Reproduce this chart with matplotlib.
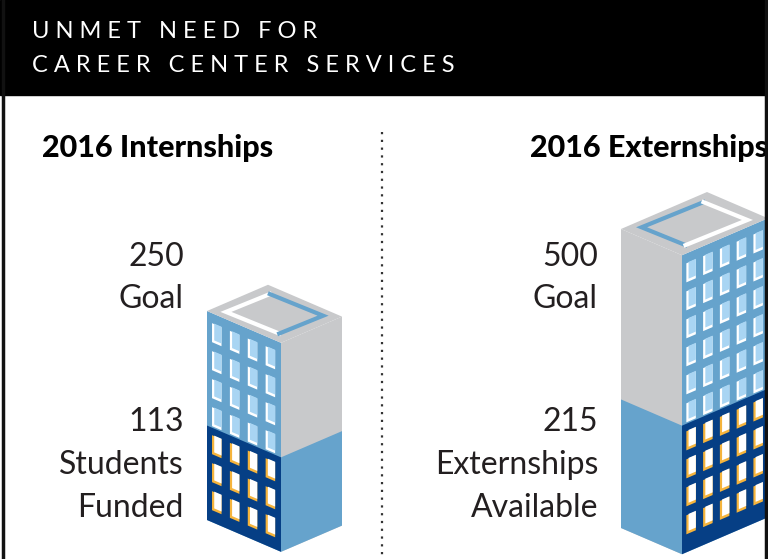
import matplotlib
matplotlib.use("Agg")
import matplotlib.pyplot as plt
from matplotlib.patches import Polygon, Rectangle

titles = ["2016 Internships", "2016 Externships"]
goals = [250, 500]
achieved = [113, 215]
goal_labels = ["Goal", "Goal"]
achieved_labels = [["Students", "Funded"], ["Externships", "Available"]]

GREY = "#c8c9cb"
LBLUE = "#66a3cc"
DBLUE = "#063f85"
WIN_L = "#a9d5f3"
ORANGE = "#f5b43c"

fig = plt.figure(figsize=(7.68, 5.59), dpi=100)
ax = fig.add_axes([0, 0, 1, 1])
ax.set_xlim(0, 768)
ax.set_ylim(559, 0)
ax.axis("off")

# header
ax.add_patch(Rectangle((0, 0), 768, 95, color="black", zorder=5))
ax.text(32, 31, "U N M E T   N E E D   F O R", color="white", fontsize=17,
        family="Lato", va="center", zorder=6)
ax.text(32, 66, "C A R E E R   C E N T E R   S E R V I C E S", color="white",
        fontsize=17, family="Lato", va="center", zorder=6)
ax.plot([2.5, 2.5], [0, 559], color="#111", lw=2.5, zorder=6)
ax.plot([766, 766], [0, 559], color="#111", lw=2.5, zorder=6)
ax.plot([382, 382], [132, 559], color="#333", lw=1.6, ls=(0, (1, 2.5)))

SLOPE = 0.43


def face(x0, x1, ytop0, h, sgn, color):
    dy = sgn * SLOPE * (x1 - x0)
    pts = [(x0, ytop0), (x1, ytop0 + dy), (x1, ytop0 + dy + h), (x0, ytop0 + h)]
    ax.add_patch(Polygon(pts, closed=True, fc=color, ec="none", zorder=2))


def windows(x0, x1, ytop0, h, sgn, ncols, fill_h):
    w = 9.5
    wh = 19
    gap = (x1 - x0 - ncols * w) / (ncols + 0.3)
    y = ytop0 + 10
    while y + wh < ytop0 + h - 5:
        for c in range(ncols):
            xa = x0 + gap * 0.6 + c * (w + gap)
            ya = y + sgn * SLOPE * (xa - x0)
            lower = (y - ytop0) > (h - fill_h) - 5
            pts = [(xa, ya), (xa + w, ya + sgn * SLOPE * w),
                   (xa + w, ya + sgn * SLOPE * w + wh), (xa, ya + wh)]
            ax.add_patch(Polygon(pts, fc=ORANGE if lower else "white", ec="none", zorder=3))
            off = 2.2
            inner = [(xa + off, ya + sgn * SLOPE * off - 0.5),
                     (xa + w, ya + sgn * SLOPE * w - 0.5),
                     (xa + w, ya + sgn * SLOPE * w + wh - off - 0.5),
                     (xa + off, ya + sgn * SLOPE * off + wh - off - 0.5)]
            ax.add_patch(Polygon(inner, fc="white" if lower else WIN_L, ec="none", zorder=3))
        y += 28


def building(xl, xf, xr, ytop_left, value, part, win_left, ncols):
    h = 119 + 0.36 * value
    fill_h = h * part / value
    yfront = ytop_left + SLOPE * (xf - xl)
    yright = yfront - SLOPE * (xr - xf)
    lc_top, lc_bot = (LBLUE, DBLUE) if win_left else (GREY, LBLUE)
    rc_top, rc_bot = (GREY, LBLUE) if win_left else (LBLUE, DBLUE)
    face(xl, xf, ytop_left, h, 1, lc_top)
    face(xl, xf, ytop_left + h - fill_h, fill_h, 1, lc_bot)
    face(xf, xr, yfront, h, -1, rc_top)
    face(xf, xr, yfront + h - fill_h, fill_h, -1, rc_bot)
    if win_left:
        windows(xl, xf, ytop_left, h, 1, ncols, fill_h)
    else:
        windows(xf, xr, yfront, h, -1, ncols, fill_h)
    yback = ytop_left - SLOPE * (xr - xf)
    xb = xl + (xr - xf)
    roof = [(xl, ytop_left), (xb, yback), (xr, yright), (xf, yfront)]
    ax.add_patch(Polygon(roof, fc=GREY, ec="none", zorder=4))
    cx = sum(p[0] for p in roof) / 4
    cy = sum(p[1] for p in roof) / 4
    inner = [(cx + 0.72 * (px - cx), cy + 0.68 * (py - cy)) for px, py in roof]
    ax.plot([inner[3][0], inner[0][0], inner[1][0]], [inner[3][1], inner[0][1], inner[1][1]],
            color="white" if win_left else LBLUE, lw=3, zorder=5, solid_joinstyle="miter")
    ax.plot([inner[1][0], inner[2][0], inner[3][0]], [inner[1][1], inner[2][1], inner[3][1]],
            color=LBLUE if win_left else "white", lw=3, zorder=5, solid_joinstyle="miter")


building(207, 281, 342, 311, goals[0], achieved[0], True, 4)
building(621, 682, 768, 229, goals[1], achieved[1], False, 5)

ax.text(42, 148, titles[0], fontsize=22, fontweight="black", family="Lato", va="center")
ax.text(768, 148, titles[1], fontsize=22, fontweight="black", family="Lato", va="center", ha="right")

lab_kw = dict(fontsize=23, family="Lato", ha="right", va="center", color="#231f20")
for xr, g, gl, a, al in [(184, goals[0], goal_labels[0], achieved[0], achieved_labels[0]),
                         (598, goals[1], goal_labels[1], achieved[1], achieved_labels[1])]:
    ax.text(xr, 257, str(g), **lab_kw)
    ax.text(xr, 299, gl, **lab_kw)
    ax.text(xr, 422, str(a), **lab_kw)
    ax.text(xr, 465, al[0], **lab_kw)
    ax.text(xr, 508, al[1], **lab_kw)

fig.savefig("out.png", dpi=100)
